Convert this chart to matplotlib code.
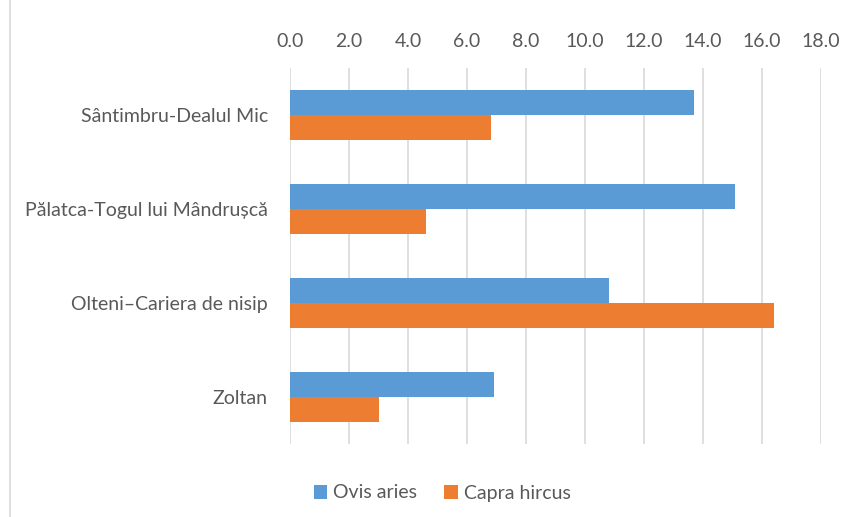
import matplotlib
matplotlib.use("Agg")
import matplotlib.pyplot as plt
import numpy as np

categories = ["Sântimbru-Dealul Mic", "Pălatca-Togul lui Mândrușcă",
              "Olteni–Cariera de nisip", "Zoltan"]
ovis_aries = [13.7, 15.1, 10.8, 6.9]
capra_hircus = [6.8, 4.6, 16.4, 3.0]
series_names = ["Ovis aries", "Capra hircus"]
xticks = [0, 2, 4, 6, 8, 10, 12, 14, 16, 18]

plt.rcParams['font.family'] = ['Lato', 'DejaVu Sans']
text_color = "#595959"
blue = "#5B9BD5"
orange = "#ED7D31"
grid_color = "#D9D9D9"

fig = plt.figure(figsize=(8.51, 5.17), dpi=100)
ax = fig.add_axes([290/851, 1-444.3/517, (821-290)/851, (444.3-68.3)/517])

y = np.arange(len(categories))
h = 0.266
ax.barh(y - h/2, ovis_aries, height=h, color=blue, label=series_names[0], zorder=3)
ax.barh(y + h/2, capra_hircus, height=h, color=orange, label=series_names[1], zorder=3)

ax.set_ylim(len(categories) - 0.5, -0.5)
ax.set_xlim(0, 18)
ax.set_yticks(y)
ax.set_yticklabels(categories, fontsize=14, color=text_color)
ax.set_xticks(xticks)
ax.set_xticklabels([f"{v:.1f}" for v in xticks], fontsize=14, color=text_color)
ax.xaxis.tick_top()
ax.tick_params(axis='both', length=0)
ax.tick_params(axis='y', pad=16)
ax.tick_params(axis='x', pad=13)
for s in ax.spines.values():
    s.set_visible(False)
ax.grid(axis='x', color=grid_color, linewidth=1.2, zorder=0)
ax.set_axisbelow(True)

fig.legend(loc='center', bbox_to_anchor=(442/851, 1-493/517), ncol=2, frameon=False,
           fontsize=14, handlelength=0.7, handleheight=0.7, handletextpad=0.3,
           columnspacing=1.4, labelcolor=text_color)

fig.add_artist(plt.Line2D([9.5/851, 9.5/851], [0, 1], transform=fig.transFigure,
                          color=grid_color, linewidth=1.2))

fig.savefig("out.png", dpi=100, facecolor="white")
